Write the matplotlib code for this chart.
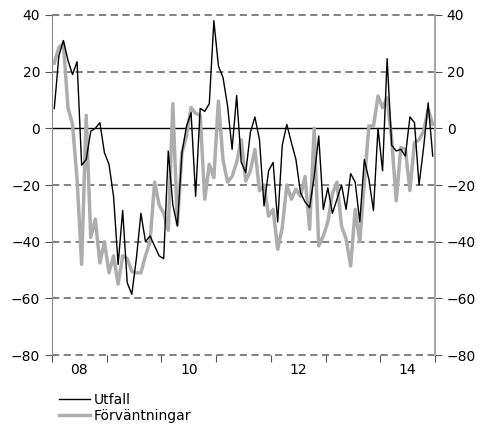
import matplotlib
matplotlib.use("Agg")
import matplotlib.pyplot as plt
import numpy as np

# monthly values, Jan 2008 - Dec 2014
utfall = [7, 25.5, 31, 24, 19, 23.5, -13, -11, -1, 0, 2, -8.6,
          -12.7, -24, -48, -29, -54.5, -58.6, -46, -30, -40, -38, -41.5, -45,
          -46, -8, -27, -34.5, -8.6, 0.8, 5.5, -24, 7, 6, 8.7, 38,
          22, 18, 8, -7.4, 11.6, -12, -15.6, -1.5, 4, -4, -27.4, -15,
          -12, -33, -6, 1.4, -5, -11, -22.7, -26, -28, -17, -2.7, -28.6,
          -21, -30, -25, -20, -28.6, -16, -19, -33, -11, -18, -29, 0,
          -15, 24.6, -6, -8, -7.4, -9.8, 4, 2, -20, -6.8, 9, -9.8]
forvantningar = [23, 28.5, 30, 7.3, 1.4, -18, -48, 4.6, -38.5, -32, -47.5, -40,
                 -51, -45, -55, -45, -46, -50.5, -51, -51, -45, -40, -19, -27,
                 -30, -36, 8.7, -34, -8.6, -2.7, 7.3, 5.3, 4.6, -25, -12.7, -17.4,
                 9.6, -11, -19, -17, -12, -4, -18.6, -15, -7.4, -22, -20, -31,
                 -28.6, -42.7, -35, -20, -25, -21.5, -24, -17, -35.6, 0, -41.5, -38,
                 -33, -23, -19, -34.5, -39, -48.6, -28.6, -40, -19, 0.8, 0.8, 11.4,
                 7.3, 10.8, -3.9, -25.6, -6.8, -7.4, -22, -5, -4, -1, 6.7, 1.4]
start_year = 2008
year_labels = ["08", "10", "12", "14"]
yticks = [-80, -60, -40, -20, 0, 20, 40]

x = start_year + (np.arange(len(utfall)) + 0.5) / 12.0

fig = plt.figure(figsize=(4.8, 4.26), dpi=100)
ax = fig.add_axes([52/480, 1 - 355/426, 383/480, 340/426])

for y in yticks:
  if y == 0:
    ax.axhline(y, color="black", lw=1.0, zorder=1)
  else:
    ax.axhline(y, color="#777777", lw=1.3, ls=(0, (4, 2.5)), zorder=1, clip_on=False)

l1, = ax.plot(x, utfall, color="black", lw=1.0, zorder=3, label="Utfall")
l2, = ax.plot(x, forvantningar, color="#adadad", lw=2.5, zorder=2, label="Förväntningar")

ax.set_xlim(start_year, start_year + 7)
ax.set_ylim(-80, 40)
ax.set_yticks(yticks)
ax.set_xticks(np.arange(start_year, start_year + 8))
ax.set_xticklabels([])
ax.set_xticks([start_year + 0.5 + 2*k for k in range(4)], minor=True)
ax.set_xticklabels(year_labels, minor=True)
ax.tick_params(axis="x", which="major", length=5, color="#555555", direction="out")
ax.tick_params(axis="x", which="minor", length=0, labelsize=10, pad=6)
ax.tick_params(axis="y", which="major", length=5, color="#555555", direction="out",
               left=True, right=True, labelleft=True, labelright=True, labelsize=10)

ax.spines["top"].set_visible(False)
ax.spines["bottom"].set_visible(False)
ax.spines["left"].set_color("#888888")
ax.spines["right"].set_color("#aaaaaa")
ax.spines["right"].set_linewidth(1.5)

fig.legend([l1, l2], ["Utfall", "Förväntningar"], loc="upper left",
           bbox_to_anchor=(52/480, 1 - 386/426), frameon=False, fontsize=10,
           handlelength=2.2, handletextpad=0.3, labelspacing=0.15, borderpad=0)

fig.savefig("out.png", dpi=100)
